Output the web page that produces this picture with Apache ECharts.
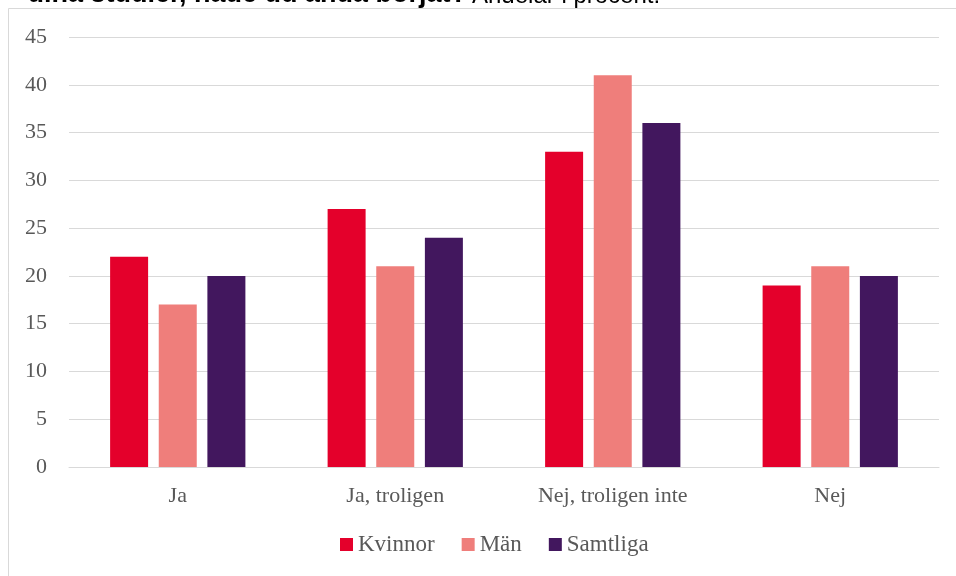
<!DOCTYPE html>
<html>
<head>
<meta charset="utf-8">
<script src="https://cdn.jsdelivr.net/npm/echarts@6/dist/echarts.min.js"></script>
<style>html,body{margin:0;padding:0;background:#fff;}#c{width:956px;height:576px;}</style>
</head>
<body>
<div id="c"></div>
<script>
var categories = ['Ja', 'Ja, troligen', 'Nej, troligen inte', 'Nej'];
var seriesNames = ['Kvinnor', 'Män', 'Samtliga'];
var kvinnor = [22, 27, 33, 19];
var man = [17, 21, 41, 21];
var samtliga = [20, 24, 36, 20];
var yTicks = [0, 5, 10, 15, 20, 25, 30, 35, 40, 45];
var titleBold = 'dina studier, hade du ändå börjat?';
var titleRegular = 'Andelar i procent.';

var colors = ['#E4002B', '#EF7E7B', '#42175E'];
var serif = 'Liberation Serif';
var chart = echarts.init(document.getElementById('c'));
var values = [kvinnor, man, samtliga];
chart.setOption({
  animation: false,
  backgroundColor: '#ffffff',
  textStyle: { fontFamily: serif },
  graphic: [
    { type: 'rect', shape: { x: 8.5, y: 8.5, width: 1000, height: 600 }, style: { fill: 'none', stroke: '#D9D9D9', lineWidth: 1 }, silent: true },
    { type: 'text', x: 467, y: -5, style: { text: titleBold, font: 'bold 27px "Liberation Sans", Arial, sans-serif', fill: '#000', align: 'right', verticalAlign: 'middle' } },
    { type: 'text', x: 472, y: -4, style: { text: titleRegular, font: '24px "Liberation Sans", Arial, sans-serif', fill: '#000', align: 'left', verticalAlign: 'middle' } }
  ],
  grid: { left: 69, right: 17, top: 37, bottom: 109, containLabel: false },
  legend: {
    data: seriesNames,
    left: 340, top: 533, padding: 0,
    icon: 'rect', itemWidth: 13, itemHeight: 13, itemGap: 27,
    textStyle: { fontFamily: 'serif', fontSize: 23, color: '#595959', fontWeight: 'normal' }
  },
  xAxis: {
    type: 'category', data: categories,
    axisLine: { lineStyle: { color: '#D9D9D9', width: 1 } },
    axisTick: { show: false },
    axisLabel: { fontFamily: serif, fontSize: 22, color: '#595959', margin: 18 }
  },
  yAxis: {
    type: 'value', min: yTicks[0], max: yTicks[yTicks.length - 1], interval: 5,
    axisLine: { show: false }, axisTick: { show: false },
    splitLine: { lineStyle: { color: '#D9D9D9', width: 1 } },
    axisLabel: { fontFamily: serif, fontSize: 22, color: '#595959', margin: 22 }
  },
  series: seriesNames.map(function (n, i) {
    return {
      name: n, type: 'bar', data: values[i], barWidth: 38, barGap: '28%',
      itemStyle: { color: colors[i] }
    };
  })
});
</script>
</body>
</html>
